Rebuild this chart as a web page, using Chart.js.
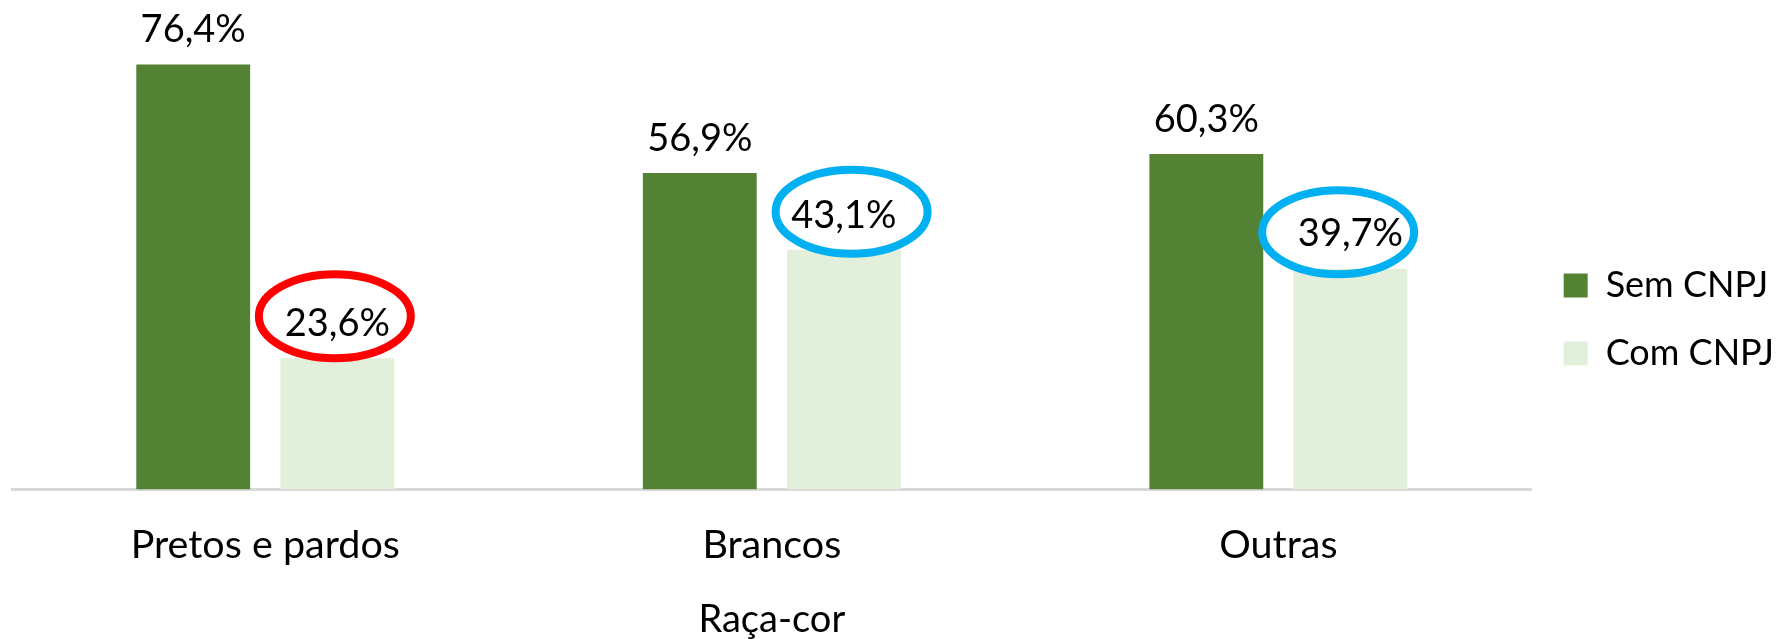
<!DOCTYPE html>
<html>
<head>
<meta charset="utf-8">
<script src="https://cdn.jsdelivr.net/npm/chart.js@4"></script>
<style>
  html, body { margin: 0; padding: 0; background: #fff; }
  #wrap { width: 1778px; height: 639px; }
</style>
</head>
<body>
<div id="wrap"><canvas id="grafico" width="1778" height="639"></canvas></div>
<script>
// Dados do gráfico
const categorias = ['Pretos e pardos', 'Brancos', 'Outras'];
const semCnpj = [76.4, 56.9, 60.3];
const comCnpj = [23.6, 43.1, 39.7];
const tituloEixo = 'Raça-cor';

// cores dos destaques (elipses) em volta dos rótulos "Com CNPJ"
const destaqueCores = ['#FF0000', '#00B0F0', '#00B0F0'];

const fonte = 'Lato, "Noto Sans", sans-serif';

function formatar(v) {
    return v.toFixed(1).replace('.', ',') + '%';
}

// Rótulos de valor acima das barras + elipses de destaque
const rotulosPlugin = {
    id: 'rotulos',
    afterDatasetsDraw(chart) {
        const ctx = chart.ctx;
        ctx.save();
        ctx.font = '38px ' + fonte;
        ctx.fillStyle = '#000';
        ctx.textAlign = 'center';
        ctx.textBaseline = 'middle';
        chart.data.datasets.forEach((ds, di) => {
            const meta = chart.getDatasetMeta(di);
            meta.data.forEach((bar, i) => {
                const x = bar.x;
                const y = bar.y - 36.5;
                ctx.fillText(formatar(ds.data[i]), x, y + 2);
                if (di === 1 && destaqueCores[i]) {
                    // pequeno deslocamento de cada elipse, como no original
                    const shift = [[-2.5, -5.5], [7.7, -1.5], [-12.3, 0]][i];
                    ctx.beginPath();
                    ctx.ellipse(x + shift[0], y + shift[1], 76, 42, 0, 0, Math.PI * 2);
                    ctx.lineWidth = 8;
                    ctx.strokeStyle = destaqueCores[i];
                    ctx.stroke();
                }
            });
        });
        ctx.restore();
    }
};

const ctx = document.getElementById('grafico').getContext('2d');
new Chart(ctx, {
    type: 'bar',
    data: {
        labels: categorias,
        datasets: [{
            label: 'Sem CNPJ',
            data: semCnpj,
            backgroundColor: '#548235',
            borderWidth: 0,
            categoryPercentage: 0.569,
            barPercentage: 0.79
        }, {
            label: 'Com CNPJ',
            data: comCnpj,
            backgroundColor: '#E2EFDA',
            borderWidth: 0,
            categoryPercentage: 0.569,
            barPercentage: 0.79
        }]
    },
    options: {
        responsive: false,
        animation: false,
        layout: {
            padding: { left: 12, right: -6, top: 0, bottom: 0 }
        },
        plugins: {
            legend: {
                position: 'right',
                labels: {
                    boxWidth: 24,
                    boxHeight: 24,
                    padding: 32,
                    color: '#000',
                    font: { family: fonte, size: 36 }
                }
            },
            tooltip: { enabled: false }
        },
        scales: {
            y: {
                display: false,
                min: 0,
                max: 88
            },
            x: {
                grid: { display: false, drawTicks: false },
                border: { display: true, color: '#D9D9D9', width: 3 },
                ticks: {
                    color: '#000',
                    padding: 32,
                    font: { family: fonte, size: 39.5 }
                },
                title: {
                    display: true,
                    text: tituloEixo,
                    color: '#000',
                    padding: { top: 0, bottom: 0 },
                    font: { family: fonte, size: 38, lineHeight: 1 }
                }
            }
        }
    },
    plugins: [rotulosPlugin]
});
</script>
</body>
</html>
